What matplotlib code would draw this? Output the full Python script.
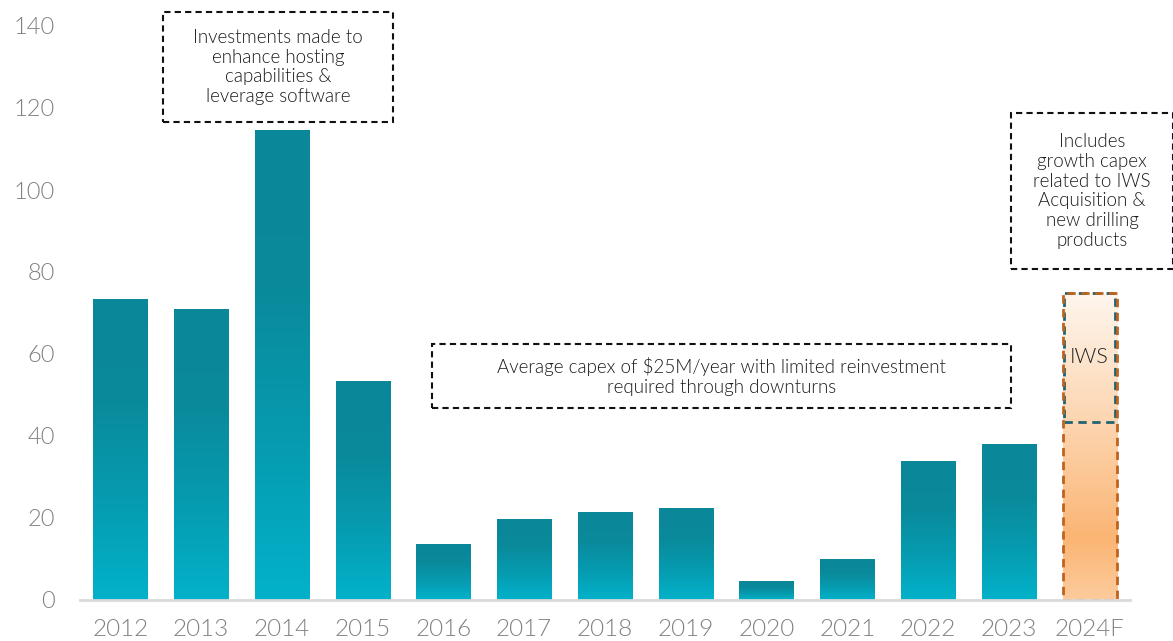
import matplotlib
matplotlib.use("Agg")
import matplotlib.pyplot as plt
import numpy as np
from matplotlib.colors import LinearSegmentedColormap
from matplotlib.patches import Rectangle

years = ["2012", "2013", "2014", "2015", "2016", "2017", "2018", "2019",
         "2020", "2021", "2022", "2023"]
capex = [73.4, 71.0, 114.6, 53.4, 13.7, 19.8, 21.5, 22.4, 4.6, 10.0, 33.9, 38.0]
forecast_label = "2024F"
forecast_base = 43.4
forecast_iws = 31.5
yticks = [0, 20, 40, 60, 80, 100, 120, 140]

plt.rcParams['font.family'] = ['Lato', 'DejaVu Sans']
LW = 300

W, H = 1173, 641
fig = plt.figure(figsize=(W / 100, H / 100), dpi=100)
ax = fig.add_axes([80 / W, (H - 600) / H, (1130 - 80) / W, (600 - 26) / H])

teal_cmap = LinearSegmentedColormap.from_list("teal", ["#02B2CA", "#069BB0", "#0A8A9B", "#0A8798"])
orange_cmap = LinearSegmentedColormap.from_list(
    "orng", [(0, "#FDCB9C"), (0.2, "#FBB574"), (0.55, "#FDD3AC"), (1.0, "#FEF6EE")])

grad = np.linspace(0, 1, 256).reshape(-1, 1)

def gradient_fill(patch, cmap):
    x0, y0 = patch.get_x(), patch.get_y()
    w, h = patch.get_width(), patch.get_height()
    im = ax.imshow(grad, cmap=cmap, origin="lower", aspect="auto",
                   extent=(x0, x0 + w, y0, y0 + h), zorder=2)
    im.set_clip_path(patch)

xs = np.arange(len(years))
bw = 0.67
bars = ax.bar(xs, capex, width=bw, facecolor="none", edgecolor="none", zorder=2)
for p in bars:
    gradient_fill(p, teal_cmap)

xf = len(years)
total = forecast_base + forecast_iws
fbar = ax.bar([xf], [total], width=bw, facecolor="none", edgecolor="none", zorder=2)
gradient_fill(fbar[0], orange_cmap)
ax.bar([xf], [forecast_iws], bottom=[forecast_base], width=bw * 0.94, fill=False,
       edgecolor="#1E6472", linestyle=(0, (3, 2)), linewidth=2, zorder=4)
ax.bar([xf], [total], width=bw, fill=False, edgecolor="#BF641E", linestyle=(0, (3, 2)),
       linewidth=2, zorder=5)
ax.text(xf, forecast_base + forecast_iws * 0.5, "IWS", ha="center", va="center",
        fontsize=15.5, color="#222222", fontweight=LW, zorder=6)

ax.set_xlim(-0.5, len(years) + 0.5)
ax.set_ylim(0, 140)
ax.set_xticks(list(xs) + [xf])
ax.set_xticklabels(years + [forecast_label], fontweight=LW)
ax.set_yticks(yticks)
ax.set_yticklabels([str(v) for v in yticks], fontweight=LW)
ax.tick_params(axis="both", length=0, colors="#808080")
ax.tick_params(axis="x", pad=14, labelsize=17.5)
ax.tick_params(axis="y", pad=18, labelsize=17)
for s in ["top", "right", "left"]:
    ax.spines[s].set_visible(False)
ax.spines["bottom"].set_color("#D9D9D9")
ax.spines["bottom"].set_linewidth(2)
ax.spines["bottom"].set_zorder(6)

def box(x0, x1, y0, y1, text):
    r = Rectangle((x0, y0), x1 - x0, y1 - y0, fill=False, edgecolor="#111111",
                  linestyle=(0, (3, 2)), linewidth=1.5, clip_on=False, zorder=7)
    ax.add_patch(r)
    ax.text((x0 + x1) / 2, (y0 + y1) / 2, text, ha="center", va="center",
            fontsize=13.5, color="#1a1a1a", linespacing=1.2, fontweight=LW,
            clip_on=False, zorder=8)

box(0.533, 3.372, 116.6, 143.4,
    "Investments made to\nenhance hosting\ncapabilities &\nleverage software")
box(3.855, 11.03, 46.8, 62.4,
    "Average capex of $25M/year with limited reinvestment\nrequired through downturns")
box(11.03, 13.03, 80.7, 118.8,
    "Includes\ngrowth capex\nrelated to IWS\nAcquisition &\nnew drilling\nproducts")

fig.savefig("out.png", dpi=100)
